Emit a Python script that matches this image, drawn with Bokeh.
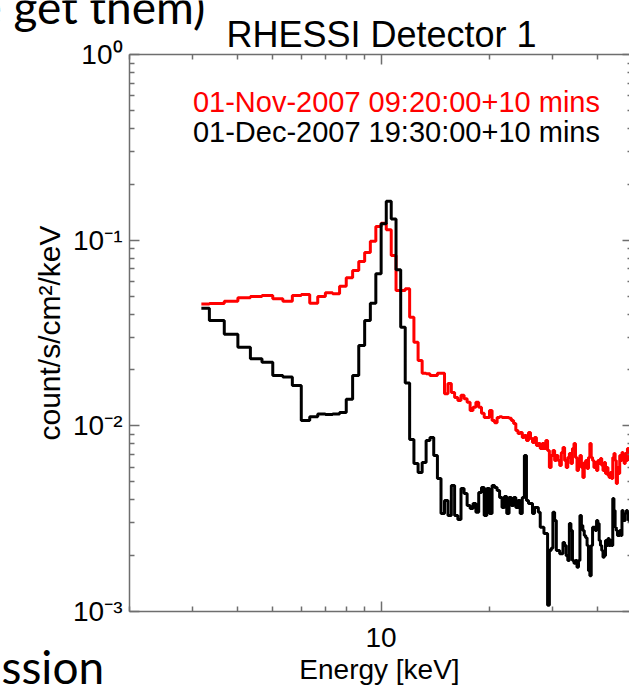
from bokeh.plotting import figure
from bokeh.models import Range1d, FixedTicker, LogAxis, Label
from bokeh.embed import file_html
from bokeh.resources import INLINE

# ---------------- data ----------------
bin_start_kev = 3.0
bin_width_kev = 1.0 / 3.0

red_counts = [
    0.0453, 0.0456, 0.0469, 0.0489, 0.0497, 0.0504, 0.0483, 0.0469, 0.0504, 0.0510,
    0.0458, 0.0497, 0.0521, 0.0514, 0.0565, 0.0627, 0.0686, 0.0767, 0.0858, 0.0988,
    0.1185, 0.1234, 0.1137, 0.0827, 0.0536, 0.0536, 0.0547, 0.0385, 0.0282, 0.0225,
    0.0192, 0.0191, 0.0187, 0.0187, 0.0192, 0.0192, 0.0149, 0.0169, 0.0151, 0.0142,
    0.0137, 0.0146, 0.0140, 0.0134, 0.0121, 0.0126, 0.0134, 0.0126, 0.0117, 0.0111,
    0.0111, 0.0121, 0.0107, 0.0104, 0.0111, 0.0112, 0.0111, 0.0111, 0.0111, 0.0110,
    0.0107, 0.0103, 0.00944, 0.00910, 0.00921, 0.00865, 0.00887, 0.00834, 0.00921, 0.00855,
    0.00814, 0.00865, 0.00784, 0.00804, 0.00756, 0.00804, 0.00756, 0.00834, 0.00737, 0.00597,
    0.00692, 0.00737, 0.00651, 0.00692, 0.00651, 0.00612, 0.00719, 0.00765, 0.00651, 0.00597,
    0.00675, 0.00710, 0.00627, 0.00756, 0.00804, 0.00675, 0.00575, 0.00651, 0.00692, 0.00597,
    0.00527, 0.00635, 0.00651, 0.00589, 0.00675, 0.00804, 0.00675, 0.00651, 0.00597, 0.00635,
    0.00575, 0.00651, 0.00627, 0.00667, 0.00612, 0.00575, 0.00635, 0.00554, 0.00597, 0.00540,
    0.00527, 0.00561, 0.00521, 0.00675, 0.00710, 0.00651, 0.00489, 0.00597, 0.00554, 0.00692,
    0.00651, 0.00719, 0.00675, 0.00627, 0.00710, 0.00651, 0.00756, 0.00675, 0.00651, 0.00692,
    0.00667,
]

black_counts = [
    0.0430, 0.0369, 0.0311, 0.0265, 0.0230, 0.0220, 0.0187, 0.0183, 0.0165, 0.0107,
    0.0112, 0.0116, 0.0115, 0.0116, 0.0118, 0.0139, 0.0187, 0.0271, 0.0369, 0.0458,
    0.0659, 0.1225, 0.162, 0.130, 0.0693, 0.0340, 0.0170, 0.00844, 0.00627, 0.00561,
    0.00635, 0.00834, 0.00865, 0.00692, 0.00521, 0.00337, 0.00396, 0.00329, 0.00477, 0.00329,
    0.00313, 0.00460, 0.00432, 0.00372, 0.00359, 0.00382, 0.00342, 0.00438, 0.00466, 0.00329,
    0.00460, 0.00337, 0.00477, 0.00466, 0.00449, 0.00411, 0.00363, 0.00416, 0.00337, 0.00411,
    0.00372, 0.00411, 0.00363, 0.00396, 0.00337, 0.00411, 0.00692, 0.00396, 0.00382, 0.00382,
    0.00337, 0.00363, 0.00363, 0.00342, 0.00284, 0.00284, 0.00263, 0.00263, 0.00108, 0.00213,
    0.00219, 0.00342, 0.00309, 0.00213, 0.00213, 0.00205, 0.00205, 0.00235, 0.00227, 0.00200,
    0.00188, 0.00298, 0.00273, 0.00188, 0.00182, 0.00188, 0.00173, 0.00188, 0.00329, 0.00291,
    0.00273, 0.00257, 0.00250, 0.00227, 0.00166, 0.00156, 0.00227, 0.00284, 0.00284, 0.00273,
    0.00309, 0.00298, 0.00241, 0.00227, 0.00213, 0.00196, 0.00200, 0.00241, 0.00227, 0.00247,
    0.00227, 0.00241, 0.00227, 0.00406, 0.00350, 0.00284, 0.00273, 0.00257, 0.00257, 0.00273,
    0.00257, 0.00350, 0.00329, 0.00309, 0.00337, 0.00350, 0.00337, 0.00309, 0.00329, 0.00317,
    0.00342,
]

# bin centres of the 1/3 keV energy grid
energy_kev = [bin_start_kev + (i + 0.5) * bin_width_kev for i in range(len(red_counts))]

x_major_ticks = [10]
x_minor_ticks = [2, 3, 4, 5, 6, 7, 8, 9, 20, 30, 40]
y_major_ticks = [0.001, 0.01, 0.1, 1.0]
y_tick_labels = ["10\u207b\u00b3", "10\u207b\u00b2", "10\u207b\u00b9", "10\u2070"]
y_minor_ticks = [m * d for d in (0.001, 0.01, 0.1) for m in range(2, 10)]

plot_x_bounds = (2, 50)        # extent of the energy axis (keV)
plot_y_bounds = (0.001, 1.0)   # extent of the flux axis

title_text = "RHESSI Detector 1"
series_labels = ["01-Nov-2007 09:20:00+10 mins", "01-Dec-2007 19:30:00+10 mins"]
series_label_pos = [(3.0, 0.552), (3.0, 0.381)]
series_colors = ["#ff0000", "#000000"]
x_label = "Energy [keV]"
y_label = "count/s/cm\u00b2/keV"
slide_top_text = "e get them)"
slide_bottom_text = "ssion"

# psym=10 style histogram: flat segment per bin, starting/ending at the outer bin centres
step_x = [energy_kev[0]] + [(a + b) / 2 for a, b in zip(energy_kev[:-1], energy_kev[1:])] + [energy_kev[-1]]
red_step_y = red_counts + [red_counts[-1]]
black_step_y = black_counts + [black_counts[-1]]

# ---------------- figure ----------------
FONT = "Liberation Sans"
AXIS_COLOR = "#6e6e6e"
W, H = 629, 686

# the frame fills the whole canvas; the axes are pinned at the plot box edges
p = figure(
    width=W, height=H,
    x_axis_type="log", y_axis_type="log",
    x_range=Range1d(0.8763, 48.97), y_range=Range1d(3.946e-4, 1.9538),
    output_backend="svg", toolbar_location=None, title=None,
    min_border_left=0, min_border_right=0, min_border_top=0, min_border_bottom=0,
    background_fill_color="white", border_fill_color="white",
)
p.outline_line_color = None
p.grid.visible = False


def style_axis(ax):
    ax.axis_line_color = AXIS_COLOR
    ax.axis_line_width = 1.5
    ax.major_tick_line_color = AXIS_COLOR
    ax.minor_tick_line_color = AXIS_COLOR
    ax.major_tick_line_width = 1.5
    ax.minor_tick_line_width = 1.5
    ax.major_tick_in = 10
    ax.major_tick_out = 0
    ax.minor_tick_in = 5
    ax.minor_tick_out = 0
    ax.major_label_text_font = FONT
    ax.major_label_text_font_size = "28px"
    ax.major_label_text_color = "black"
    ax.axis_label_text_font = FONT
    ax.axis_label_text_font_size = "28px"
    ax.axis_label_text_font_style = "normal"
    ax.axis_label_text_color = "black"


xa = p.xaxis[0]
xa.ticker = FixedTicker(ticks=x_major_ticks, minor_ticks=x_minor_ticks)
style_axis(xa)
xa.fixed_location = plot_y_bounds[0]
xa.bounds = plot_x_bounds
xa.major_label_overrides = {10: "10"}
xa.major_label_standoff = 16
xa.axis_label = x_label
xa.axis_label_standoff = 4

ya = p.yaxis[0]
ya.ticker = FixedTicker(ticks=y_major_ticks, minor_ticks=y_minor_ticks)
style_axis(ya)
ya.fixed_location = plot_x_bounds[0]
ya.bounds = plot_y_bounds
ya.major_label_overrides = {v: t for v, t in zip(y_major_ticks, y_tick_labels)}
ya.major_label_standoff = 7
ya.axis_label = y_label
ya.axis_label_text_font_size = "30px"
ya.axis_label_standoff = 4

top_axis = LogAxis(ticker=FixedTicker(ticks=x_major_ticks, minor_ticks=x_minor_ticks))
style_axis(top_axis)
top_axis.fixed_location = plot_y_bounds[1]
top_axis.bounds = plot_x_bounds
top_axis.major_label_text_font_size = "0px"
top_axis.major_label_overrides = {10: ""}
p.add_layout(top_axis, "above")

right_axis = LogAxis(ticker=FixedTicker(ticks=y_major_ticks, minor_ticks=y_minor_ticks))
style_axis(right_axis)
right_axis.fixed_location = plot_x_bounds[1]
right_axis.bounds = plot_y_bounds
right_axis.major_label_text_font_size = "0px"
right_axis.major_label_overrides = {v: "" for v in y_major_ticks}
p.add_layout(right_axis, "right")

# ---------------- spectra ----------------
p.step(step_x, red_step_y, mode="after", line_color=series_colors[0], line_width=3)
p.step(step_x, black_step_y, mode="after", line_color=series_colors[1], line_width=3)

# series annotations
for txt, col, (xv, yv) in zip(series_labels, series_colors, series_label_pos):
    p.add_layout(Label(x=xv, y=yv, text=txt, text_color=col, text_font=FONT,
                       text_font_size="29px", text_baseline="alphabetic"))

# chart title (screen units measured from the canvas bottom-left)
p.add_layout(Label(x=381, y=H - 34, x_units="screen", y_units="screen", text=title_text,
                   text_font=FONT, text_font_size="36px", text_color="black",
                   text_align="center", text_baseline="alphabetic"))

# fragments of the surrounding slide text
p.add_layout(Label(x=-23, y=H - 6, x_units="screen", y_units="screen", text=slide_top_text,
                   text_font="Lato", text_font_size="46px", text_color="black",
                   text_baseline="alphabetic"))
p.add_layout(Label(x=1, y=H - 666, x_units="screen", y_units="screen", text=slide_bottom_text,
                   text_font="Lato", text_font_size="46px", text_color="black",
                   text_baseline="alphabetic"))

open("out.html", "w").write(file_html(p, INLINE))
